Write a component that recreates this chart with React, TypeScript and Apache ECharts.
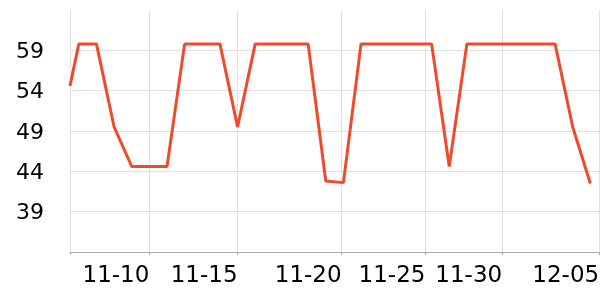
import React, { useEffect, useRef } from "react";
import * as echarts from "echarts";

// Day positions (in days from the first full reading) and readings
const days: number[] = [
  -0.5, 0, 1, 2, 3, 4, 5, 6, 7, 8, 9, 10, 11, 12, 13, 14,
  15, 16, 17, 18, 19, 20, 21, 22, 23, 24, 25, 26, 27, 28, 29,
];
const values: number[] = [
  54.6,
  59.8, 59.8, 49.5, 44.6, 44.6, 44.6, 59.8, 59.8, 59.8, 49.5,
  59.8, 59.8, 59.8, 59.8, 42.8, 42.6, 59.8, 59.8, 59.8, 59.8,
  59.8, 44.6, 59.8, 59.8, 59.8, 59.8, 59.8, 59.8, 49.5, 42.5,
];
const tickLabels: string[] = ["11-10", "11-15", "11-20", "11-25", "11-30", "12-05"];
const tickPositions: number[] = [4, 9, 14.9, 19.65, 24, 29.5];

export default function App() {
  const ref = useRef<HTMLDivElement>(null);
  useEffect(() => {
    if (!ref.current) return;
    const chart = echarts.init(ref.current, null, { renderer: "svg" });
    const data = values.map((v, i) => [days[i], v]);
    chart.setOption({
      animation: false,
      grid: { left: 70, top: 10, bottom: 48, right: 0, containLabel: false },
      xAxis: {
        type: "value",
        min: -0.5,
        max: 30,
        axisLine: { show: true, lineStyle: { color: "#aaaaaa", width: 1 } },
        axisTick: {
          show: true,
          length: 3,
          customValues: [-0.5, ...tickPositions],
          lineStyle: { color: "#aaaaaa" },
        },
        axisLabel: {
          customValues: tickPositions,
          formatter: (v: number) => {
            const idx = tickPositions.findIndex((p) => Math.abs(p - v) < 1e-6);
            return idx >= 0 ? tickLabels[idx] : "";
          },
          align: "right",
          margin: 10,
          fontSize: 23,
          color: "#000",
          fontFamily: "DejaVu Sans",
        },
        splitLine: { show: true, lineStyle: { color: "#e0e0e0", width: 1 } },
      },
      yAxis: {
        type: "value",
        min: 34,
        max: 64,
        interval: 5,
        axisLine: { show: false },
        axisTick: { show: true, length: 2, lineStyle: { color: "#e0e0e0" } },
        axisLabel: {
          margin: 26,
          fontSize: 22,
          color: "#000",
          fontFamily: "DejaVu Sans",
          showMinLabel: false,
          showMaxLabel: false,
        },
        splitLine: {
          show: true,
          showMinLine: false,
          showMaxLine: false,
          lineStyle: { color: "#e0e0e0", width: 1 },
        },
      },
      series: [
        {
          type: "line",
          data,
          showSymbol: false,
          symbol: "none",
          lineStyle: { color: "#ef4a2b", width: 3 },
          clip: true,
        },
      ],
    });
    return () => chart.dispose();
  }, []);
  return (
    <div
      ref={ref}
      style={{ position: "fixed", left: 0, top: 0, width: 608, height: 300 }}
    />
  );
}
